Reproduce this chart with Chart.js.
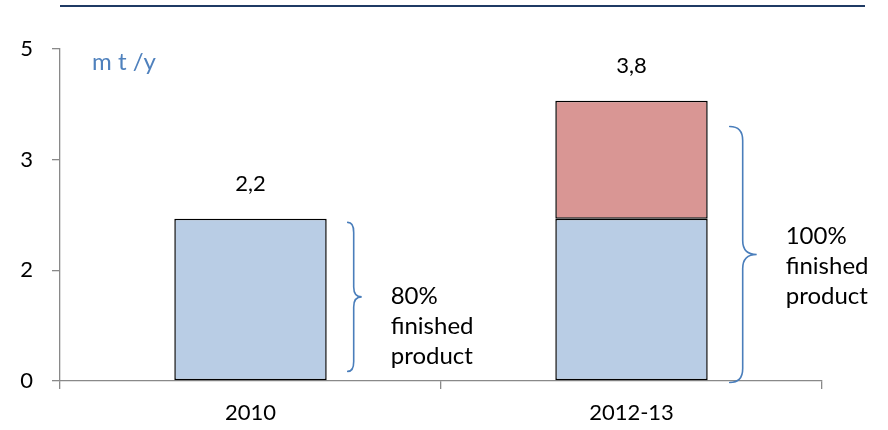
<!DOCTYPE html>
<html>
<head>
<meta charset="utf-8">
<title>Output capacity</title>
<script src="https://cdn.jsdelivr.net/npm/chart.js@4.4.0/dist/chart.umd.min.js"></script>
<style>
  html, body { margin: 0; padding: 0; background: #fff; }
  #wrap { width: 888px; height: 430px; }
</style>
</head>
<body>
<div id="wrap"><canvas id="capacityChart"></canvas></div>
<script>
// Chart data
const categories = ['2010', '2012-13'];
const baseOutput = [2.2, 2.2];
const addedOutput = [null, 1.6];
const shareLabels = ['80%', '100%'];
const noteLines = ['finished', 'product'];
const unitLabel = 'm t /y';
const axisMax = 4.5;
const axisStep = 1.5;

const FONT = 'Lato, "Open Sans", sans-serif';
const BLUE_FILL = '#B9CDE5';
const RED_FILL = '#D99694';
const BRACE_BLUE = '#4A7EBB';
const AXIS_GREY = '#898989';

// Brace placement per category (value range + pixel offsets from bar edge)
const braceSpecs = [
    { from: 0.13, to: 2.15, start: 21, stem: 27, tip: 35, r: 10, textY: 0.74 },
    { from: -0.02, to: 3.45, start: 22, stem: 35, tip: 49, r: 14, textY: 1.56 }
];

function drawBrace(ctx, x0, xs, xt, yTop, yBot, r) {
    const yMid = (yTop + yBot) / 2;
    ctx.beginPath();
    ctx.moveTo(x0, yTop);
    ctx.quadraticCurveTo(xs, yTop, xs, yTop + r);
    ctx.lineTo(xs, yMid - r);
    ctx.quadraticCurveTo(xs, yMid, xt, yMid);
    ctx.quadraticCurveTo(xs, yMid, xs, yMid + r);
    ctx.lineTo(xs, yBot - r);
    ctx.quadraticCurveTo(xs, yBot, x0, yBot);
    ctx.stroke();
}

const extrasPlugin = {
    id: 'extras',
    afterDraw(chart) {
        const { ctx, chartArea, scales } = chart;
        const y = scales.y;
        const baseBars = chart.getDatasetMeta(0).data;
        ctx.save();

        // header rule
        ctx.strokeStyle = '#1F3A64';
        ctx.lineWidth = 2;
        ctx.beginPath();
        ctx.moveTo(chartArea.left, 6);
        ctx.lineTo(chart.width - 23, 6);
        ctx.stroke();

        // unit label
        ctx.fillStyle = '#4F81BD';
        ctx.font = '24px ' + FONT;
        ctx.textAlign = 'left';
        ctx.textBaseline = 'middle';
        ctx.fillText(unitLabel, chartArea.left + 32, chartArea.top + 13);

        // totals above each stack
        ctx.fillStyle = '#000';
        ctx.font = '22px ' + FONT;
        ctx.textAlign = 'center';
        categories.forEach((c, i) => {
            const total = (baseOutput[i] || 0) + (addedOutput[i] || 0);
            const yTop = y.getPixelForValue(total);
            ctx.fillText(total.toFixed(1).replace('.', ','), baseBars[i].x, yTop - 35);
        });

        // braces and notes
        ctx.font = '24px ' + FONT;
        braceSpecs.forEach((b, i) => {
            const bar = baseBars[i];
            const right = bar.x + bar.width / 2;
            ctx.strokeStyle = BRACE_BLUE;
            ctx.lineWidth = 1.6;
            ctx.lineCap = 'round';
            drawBrace(ctx, right + b.start, right + b.stem, right + b.tip,
                y.getPixelForValue(b.to), y.getPixelForValue(b.from), b.r);

            ctx.fillStyle = '#000';
            ctx.textAlign = 'left';
            const lines = [shareLabels[i]].concat(noteLines);
            const midY = y.getPixelForValue(b.textY);
            lines.forEach((t, k) => {
                ctx.fillText(t, right + b.tip + 29, midY + (k - 1) * 30);
            });
        });
        ctx.restore();
    }
};

const ctx = document.getElementById('capacityChart').getContext('2d');

new Chart(ctx, {
    type: 'bar',
    data: {
        labels: categories,
        datasets: [
            {
                data: baseOutput,
                backgroundColor: BLUE_FILL,
                borderColor: '#000',
                borderWidth: 1.5,
                borderSkipped: false
            },
            {
                data: addedOutput,
                backgroundColor: RED_FILL,
                borderColor: '#000',
                borderWidth: 1.5,
                borderSkipped: false
            }
        ]
    },
    options: {
        responsive: true,
        maintainAspectRatio: false,
        animation: false,
        layout: { padding: { top: 49, right: 66, left: 0, bottom: 0 } },
        datasets: { bar: { categoryPercentage: 1, barPercentage: 0.4 } },
        plugins: {
            legend: { display: false },
            tooltip: { enabled: false }
        },
        scales: {
            x: {
                stacked: true,
                grid: {
                    drawOnChartArea: false,
                    drawTicks: true,
                    tickLength: 8,
                    color: AXIS_GREY,
                    lineWidth: 1.3
                },
                border: { color: AXIS_GREY, width: 1.3 },
                ticks: {
                    color: '#000',
                    padding: 11,
                    font: { family: FONT, size: 22 }
                },
                afterFit(scale) { scale.height = 49; }
            },
            y: {
                stacked: true,
                min: 0,
                max: axisMax,
                grid: {
                    drawOnChartArea: false,
                    drawTicks: true,
                    tickLength: 8,
                    color: AXIS_GREY,
                    lineWidth: 1.3
                },
                border: { color: AXIS_GREY, width: 1.3 },
                ticks: {
                    stepSize: axisStep,
                    color: '#000',
                    padding: 19,
                    font: { family: FONT, size: 22 },
                    callback: (v) => Math.round(v)
                },
                afterFit(scale) { scale.width = 60; }
            }
        }
    },
    plugins: [extrasPlugin]
});
</script>
</body>
</html>
